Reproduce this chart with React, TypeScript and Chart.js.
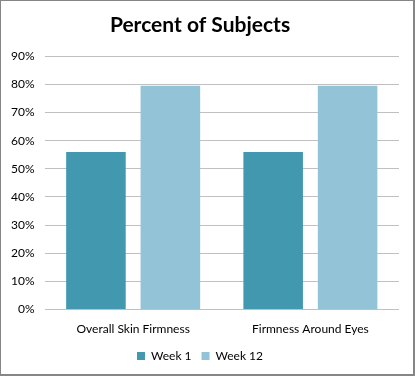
import React, { useEffect, useRef } from "react";
import { Chart, registerables } from "chart.js";

Chart.register(...registerables);

const categories = ["Overall Skin Firmness", "Firmness Around Eyes"];
const week1 = [56, 56];
const week12 = [79.5, 79.5];
const seriesNames = ["Week 1", "Week 12"];
const yTicksMax = 90;

const FONT = "Lato, 'Open Sans', 'DejaVu Sans', sans-serif";

export default function App() {
  const ref = useRef<HTMLCanvasElement | null>(null);
  useEffect(() => {
    document.body.style.margin = "0";
    const ctx = ref.current!;
    const chart = new Chart(ctx, {
      type: "bar",
      data: {
        labels: categories,
        datasets: [
          {
            label: seriesNames[0],
            data: week1,
            backgroundColor: "#4198AF",
            borderColor: "#4198AF",
            borderWidth: 0,
          },
          {
            label: seriesNames[1],
            data: week12,
            backgroundColor: "#93C3D6",
            borderColor: "#93C3D6",
            borderWidth: 0,
          },
        ],
      },
      options: {
        animation: false,
        responsive: true,
        maintainAspectRatio: false,
        layout: { padding: { left: 0, right: 14, top: 0, bottom: 2 } },
        datasets: {
          bar: { categoryPercentage: 0.84, barPercentage: 0.8 },
        },
        scales: {
          x: {
            grid: { display: false },
            border: { display: false },
            ticks: {
              color: "#000",
              font: { family: FONT, size: 12 },
              padding: 4,
            },
          },
          y: {
            min: 0,
            max: yTicksMax,
            border: { display: false },
            grid: { color: "#c0c0c0", lineWidth: 1, drawTicks: false },
            ticks: {
              stepSize: 10,
              color: "#000",
              font: { family: FONT, size: 12 },
              padding: 10,
              callback: (v: any) => v + "%",
            },
          },
        },
        plugins: {
          title: {
            display: true,
            text: "Percent of Subjects",
            color: "#000",
            font: { family: FONT, size: 21, weight: "bold" },
            padding: { top: 12, bottom: 18 },
          },
          legend: {
            position: "bottom",
            labels: {
              boxWidth: 8,
              boxHeight: 8,
              color: "#000",
              font: { family: FONT, size: 12 },
              padding: 10,
            },
          },
          tooltip: { enabled: false },
        },
      },
    });
    return () => chart.destroy();
  }, []);
  return (
    <div
      style={{
        width: 415,
        height: 376,
        boxSizing: "border-box",
        borderLeft: "1px solid #868686",
        borderTop: "1px solid #868686",
        borderRight: "2px solid #868686",
        borderBottom: "2px solid #868686",
        position: "relative",
        background: "#fff",
      }}
    >
      <canvas ref={ref} />
    </div>
  );
}
